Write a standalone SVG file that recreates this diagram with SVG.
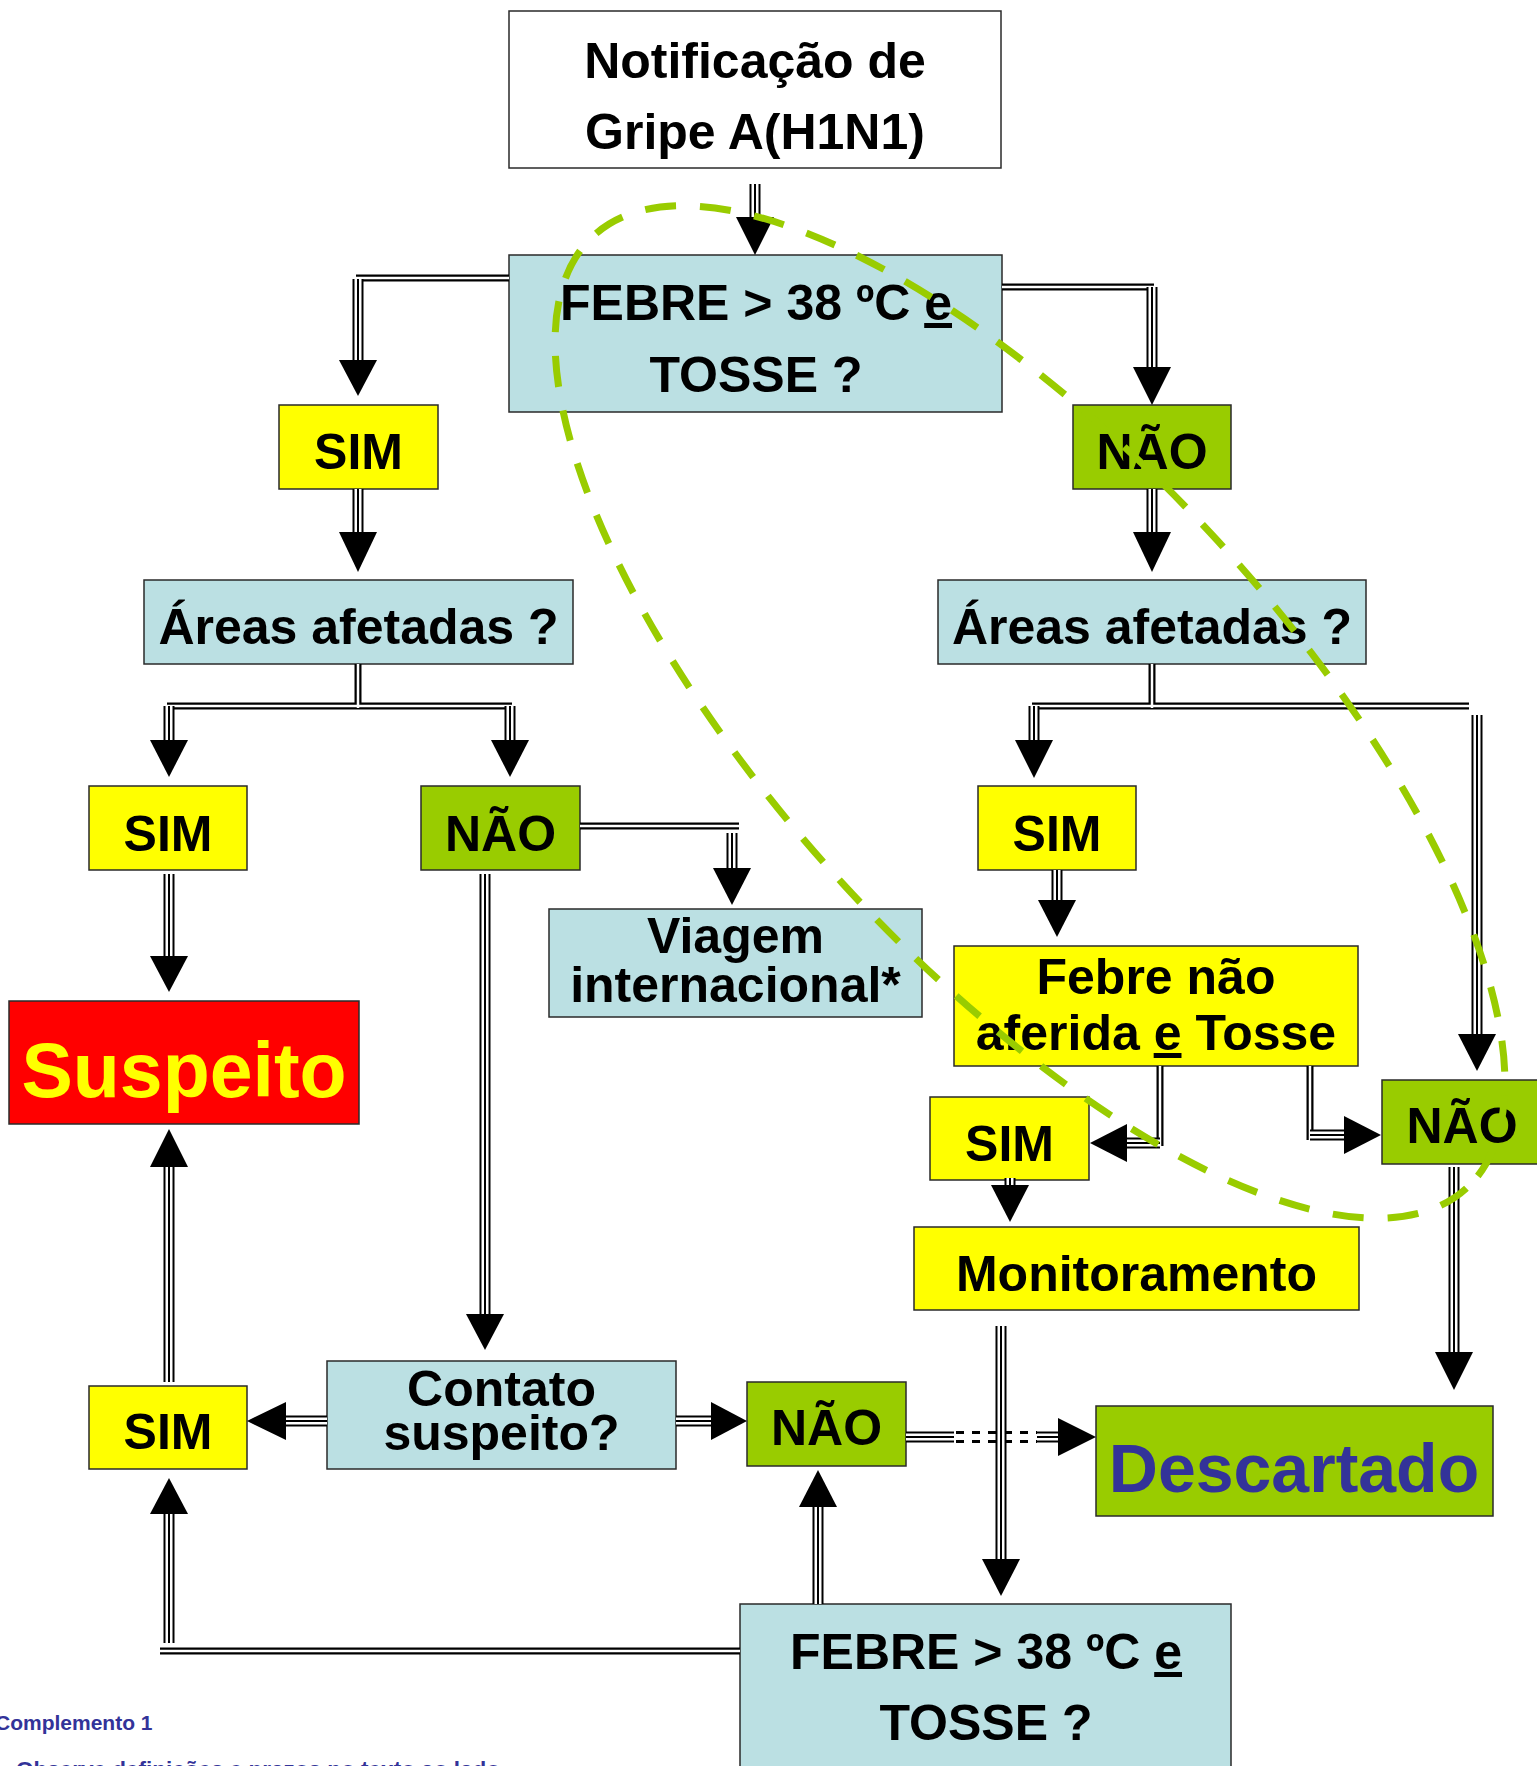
<svg xmlns="http://www.w3.org/2000/svg" width="1537" height="1766" viewBox="0 0 1537 1766">
<style>
  .box { stroke:#2a2a2a; stroke-width:1.5; }
  .white { fill:#ffffff; }
  .blue { fill:#BBE0E3; }
  .yellow { fill:#FFFF00; }
  .green { fill:#99CC00; }
  .red { fill:#FF0000; }
  text { font-family:"Liberation Sans", Arial, sans-serif; font-weight:bold; text-anchor:middle; }
  .t50 { font-size:50px; fill:#000; }
  .b7 { fill:none; stroke:#000; stroke-width:7; }
  .w25 { fill:none; stroke:#fff; stroke-width:2.5; }
  .b11 { fill:none; stroke:#000; stroke-width:11; }
  .w7 { fill:none; stroke:#fff; stroke-width:7; }
  .b2 { fill:none; stroke:#000; stroke-width:2; }
  .ah { fill:#000; }
  .dsh { fill:none; stroke:#000; stroke-width:3; stroke-dasharray:8 8; }
</style>
<defs>
  <!-- double-line segments -->
  <path id="d1" d="M509,278 H356"/>
  <path id="d2" d="M1002,287 H1154"/>
  <path id="d3" d="M358,664 V708"/>
  <path id="d4" d="M167,706 H512"/>
  <path id="d5" d="M1152,664 V708"/>
  <path id="d6" d="M1032,706 H1469"/>
  <path id="d7" d="M580,826 H739"/>
  <path id="d8" d="M1160,1066 V1146"/>
  <path id="d9" d="M1310,1066 V1140"/>
  <path id="d10" d="M740,1651 H160"/>
  <!-- triple-line segments -->
  <path id="tA" d="M755,184 V220"/>
  <path id="tB" d="M358,279 V362"/>
  <path id="tC" d="M1152,287 V370"/>
  <path id="tD" d="M358,489 V535"/>
  <path id="tE" d="M1152,489 V535"/>
  <path id="tF" d="M169,706 V743"/>
  <path id="tG" d="M510,706 V743"/>
  <path id="tH" d="M1034,706 V743"/>
  <path id="tI" d="M1477,715 V1037"/>
  <path id="tJ" d="M732,833 V871"/>
  <path id="tK" d="M169,874 V959"/>
  <path id="tL" d="M485,874 V1317"/>
  <path id="tM" d="M1057,870 V903"/>
  <path id="tN" d="M1160,1143 H1124"/>
  <path id="tO" d="M1310,1135 H1347"/>
  <path id="tP" d="M1010,1178 V1188"/>
  <path id="tQ" d="M1454,1167 V1355"/>
  <path id="tS" d="M327,1421 H283"/>
  <path id="tT" d="M676,1421 H714"/>
  <path id="tU1" d="M906,1437 H954"/>
  <path id="tU2" d="M1037,1437 H1061"/>
  <path id="tV" d="M169,1382 V1164"/>
  <path id="tW" d="M169,1643 V1511"/>
  <path id="tX" d="M818,1604 V1504"/>
</defs>

<g id="node-notificacao">
  <rect class="box white" x="509" y="11" width="492" height="157"/>
  <text class="t50" x="755" y="78">Notificação de</text>
  <text class="t50" x="755" y="149">Gripe A(H1N1)</text>
</g>
<g id="node-febre-top">
  <rect class="box blue" x="509" y="255" width="493" height="157"/>
  <text class="t50" x="756" y="320">FEBRE &gt; 38 ºC <tspan text-decoration="underline">e</tspan></text>
  <text class="t50" x="756" y="392">TOSSE ?</text>
</g>
<g id="node-sim-1">
  <rect class="box yellow" x="279" y="405" width="159" height="84"/>
  <text class="t50" x="358.5" y="469">SIM</text>
</g>
<g id="node-nao-1">
  <rect class="box green" x="1073" y="405" width="158" height="84"/>
  <text class="t50" x="1152" y="469">NÃO</text>
</g>
<g id="node-areas-left">
  <rect class="box blue" x="144" y="580" width="429" height="84"/>
  <text class="t50" x="358.5" y="644">Áreas afetadas ?</text>
</g>
<g id="node-areas-right">
  <rect class="box blue" x="938" y="580" width="428" height="84"/>
  <text class="t50" x="1152" y="644">Áreas afetadas ?</text>
</g>
<g id="node-sim-2">
  <rect class="box yellow" x="89" y="786" width="158" height="84"/>
  <text class="t50" x="168" y="851">SIM</text>
</g>
<g id="node-nao-2">
  <rect class="box green" x="421" y="786" width="159" height="84"/>
  <text class="t50" x="500.5" y="851">NÃO</text>
</g>
<g id="node-viagem">
  <rect class="box blue" x="549" y="909" width="373" height="108"/>
  <text class="t50" x="735.5" y="953">Viagem</text>
  <text class="t50" x="735.5" y="1002">internacional*</text>
</g>
<g id="node-sim-3">
  <rect class="box yellow" x="978" y="786" width="158" height="84"/>
  <text class="t50" x="1057" y="851">SIM</text>
</g>
<g id="node-febre-nao-aferida">
  <rect class="box yellow" x="954" y="946" width="404" height="120"/>
  <text class="t50" x="1156" y="994">Febre não</text>
  <text class="t50" x="1156" y="1050">aferida <tspan text-decoration="underline">e</tspan> Tosse</text>
</g>
<g id="node-nao-3">
  <rect class="box green" x="1382" y="1080" width="160" height="84"/>
  <text class="t50" x="1462" y="1143">NÃO</text>
</g>
<g id="node-sim-4">
  <rect class="box yellow" x="930" y="1097" width="159" height="83"/>
  <text class="t50" x="1009.5" y="1161">SIM</text>
</g>
<g id="node-monitoramento">
  <rect class="box yellow" x="914" y="1227" width="445" height="83"/>
  <text class="t50" x="1136.5" y="1291">Monitoramento</text>
</g>
<g id="node-suspeito">
  <rect class="box red" x="9" y="1001" width="350" height="123"/>
  <text x="184" y="1097" style="font-size:77px; fill:#FFFF00;">Suspeito</text>
</g>
<g id="node-contato">
  <rect class="box blue" x="327" y="1361" width="349" height="108"/>
  <text class="t50" x="501.5" y="1406">Contato</text>
  <text class="t50" x="501.5" y="1450">suspeito?</text>
</g>
<g id="node-sim-5">
  <rect class="box yellow" x="89" y="1386" width="158" height="83"/>
  <text class="t50" x="168" y="1449">SIM</text>
</g>
<g id="node-nao-4">
  <rect class="box green" x="747" y="1382" width="159" height="84"/>
  <text class="t50" x="826.5" y="1445">NÃO</text>
</g>
<g id="node-descartado">
  <rect class="box green" x="1096" y="1406" width="397" height="110"/>
  <text x="1294" y="1492" style="font-size:68px; fill:#333399;">Descartado</text>
</g>
<g id="node-febre-bottom">
  <rect class="box blue" x="740" y="1604" width="491" height="180"/>
  <text class="t50" x="986" y="1669">FEBRE &gt; 38 ºC <tspan text-decoration="underline">e</tspan></text>
  <text class="t50" x="986" y="1740">TOSSE ?</text>
</g>

<g id="connectors">
  <g class="b7">
    <use href="#d1"/><use href="#d2"/><use href="#d3"/><use href="#d4"/><use href="#d5"/>
    <use href="#d6"/><use href="#d7"/><use href="#d8"/><use href="#d9"/><use href="#d10"/>
  </g>
  <g class="w25">
    <use href="#d1"/><use href="#d2"/><use href="#d3"/><use href="#d4"/><use href="#d5"/>
    <use href="#d6"/><use href="#d7"/><use href="#d8"/><use href="#d9"/><use href="#d10"/>
  </g>
  <g class="b11">
    <use href="#tA"/><use href="#tB"/><use href="#tC"/><use href="#tD"/><use href="#tE"/>
    <use href="#tF"/><use href="#tG"/><use href="#tH"/><use href="#tI"/><use href="#tJ"/>
    <use href="#tK"/><use href="#tL"/><use href="#tM"/><use href="#tN"/><use href="#tO"/>
    <use href="#tP"/><use href="#tQ"/><use href="#tS"/><use href="#tT"/>
    <use href="#tU1"/><use href="#tU2"/><use href="#tV"/><use href="#tW"/><use href="#tX"/>
  </g>
  <g class="w7">
    <use href="#tA"/><use href="#tB"/><use href="#tC"/><use href="#tD"/><use href="#tE"/>
    <use href="#tF"/><use href="#tG"/><use href="#tH"/><use href="#tI"/><use href="#tJ"/>
    <use href="#tK"/><use href="#tL"/><use href="#tM"/><use href="#tN"/><use href="#tO"/>
    <use href="#tP"/><use href="#tQ"/><use href="#tS"/><use href="#tT"/>
    <use href="#tU1"/><use href="#tU2"/><use href="#tV"/><use href="#tW"/><use href="#tX"/>
  </g>
  <g class="b2">
    <use href="#tA"/><use href="#tB"/><use href="#tC"/><use href="#tD"/><use href="#tE"/>
    <use href="#tF"/><use href="#tG"/><use href="#tH"/><use href="#tI"/><use href="#tJ"/>
    <use href="#tK"/><use href="#tL"/><use href="#tM"/><use href="#tN"/><use href="#tO"/>
    <use href="#tP"/><use href="#tQ"/><use href="#tS"/><use href="#tT"/>
    <use href="#tU1"/><use href="#tU2"/><use href="#tV"/><use href="#tW"/><use href="#tX"/>
  </g>
  <!-- dashed section of NÃO -> Descartado -->
  <path class="dsh" d="M956,1432.5 H1037"/>
  <path class="dsh" d="M956,1441.5 H1037"/>
  <!-- Monitoramento -> FEBRE (drawn over the crossing) -->
  <path class="b11" d="M1001,1326 V1562"/>
  <path class="w7" d="M1001,1326 V1562"/>
  <path class="b2" d="M1001,1326 V1562"/>
  <!-- arrowheads -->
  <g class="ah">
    <polygon points="736,217 774,217 755,255"/>
    <polygon points="339,360 377,360 358,396"/>
    <polygon points="1133,367 1171,367 1152,405"/>
    <polygon points="339,532 377,532 358,572"/>
    <polygon points="1133,532 1171,532 1152,572"/>
    <polygon points="150,740 188,740 169,777"/>
    <polygon points="491,740 529,740 510,777"/>
    <polygon points="1015,740 1053,740 1034,778"/>
    <polygon points="1458,1034 1496,1034 1477,1071"/>
    <polygon points="713,868 751,868 732,905"/>
    <polygon points="150,956 188,956 169,992"/>
    <polygon points="466,1314 504,1314 485,1350"/>
    <polygon points="1038,900 1076,900 1057,937"/>
    <polygon points="1127,1124 1127,1162 1090,1143"/>
    <polygon points="1344,1116 1344,1154 1381,1135"/>
    <polygon points="991,1185 1029,1185 1010,1222"/>
    <polygon points="1435,1352 1473,1352 1454,1390"/>
    <polygon points="982,1559 1020,1559 1001,1596"/>
    <polygon points="286,1402 286,1440 247,1421"/>
    <polygon points="711,1402 711,1440 747,1421"/>
    <polygon points="1058,1418 1058,1456 1096,1437"/>
    <polygon points="150,1167 188,1167 169,1129"/>
    <polygon points="150,1514 188,1514 169,1478"/>
    <polygon points="799,1507 837,1507 818,1470"/>
  </g>
</g>

<g id="highlight">
  <ellipse cx="1030" cy="712" rx="646" ry="254" transform="rotate(47.5 1030 712)" fill="none" stroke="#99CC00" stroke-width="7" stroke-dasharray="31 24"/>
</g>

<g id="notes">
  <text x="-5" y="1730" style="font-size:21px; fill:#333399; text-anchor:start;">Complemento 1</text>
  <text x="16" y="1777" style="font-size:22.5px; fill:#333399; text-anchor:start;">Observe definições e prazos no texto ao lado</text>
</g>
</svg>
